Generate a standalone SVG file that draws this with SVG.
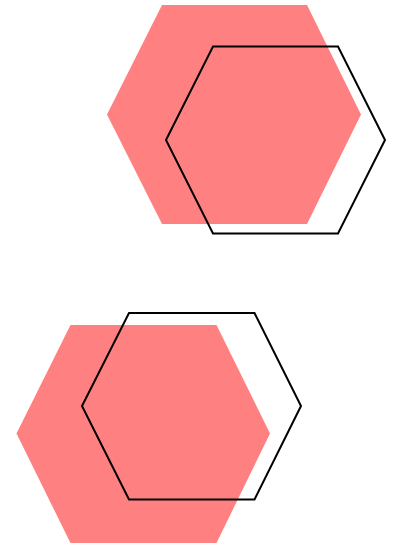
<svg xmlns="http://www.w3.org/2000/svg" width="395" height="546" viewBox="0 0 395 546">
<style>
.fill{fill:#ff8080;stroke:none}
.line{fill:none;stroke:#000;stroke-width:2;stroke-linejoin:miter}
</style>
<rect width="395" height="546" fill="#fff"/>
<g id="top-filled"><polygon class="fill" points="162,5 307,5 361,114.5 307,224 162,224 107,114.5"/></g>
<g id="top-outline"><polygon class="line" points="213,46.5 338,46.5 385,140 338,233.5 213,233.5 166,140"/></g>
<g id="bottom-filled"><polygon class="fill" points="70.5,325 216.5,325 270,433.5 216.5,543 70.5,543 16.5,433.5"/></g>
<g id="bottom-outline"><polygon class="line" points="129,313 254.5,313 301,406 254.5,499.5 129,499.5 82,406"/></g>
<g id="connectors"></g>
</svg>
